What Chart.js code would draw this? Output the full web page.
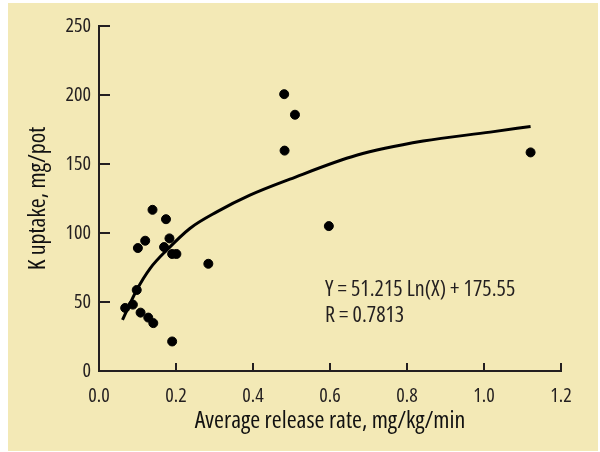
<!DOCTYPE html>
<html>
<head>
    <title>K uptake vs release rate</title>
    <script src="https://cdn.jsdelivr.net/npm/chart.js@4.4.5/dist/chart.umd.min.js"></script>
    <style>
        body { margin: 0; background: #ffffff; }
        #wrap { position: absolute; left: 8px; top: 3px; width: 590px; height: 448px; background: #f3e9b6; }
    </style>
</head>
<body>
    <div id="wrap"><canvas id="kChart"></canvas></div>

    <script>
        // Measured points (release rate, K uptake)
        const releaseRate = [0.068, 0.088, 0.098, 0.101, 0.120, 0.139, 0.108, 0.128, 0.141, 0.174, 0.169, 0.183, 0.190, 0.201, 0.190, 0.284, 0.481, 0.509, 0.482, 0.597, 1.121];
        const kUptake     = [45.7, 48.1, 58.7, 89.1, 94.4, 116.8, 42.3, 38.7, 34.7, 110.0, 89.8, 96.1, 84.8, 84.8, 21.4, 77.7, 200.6, 185.7, 159.7, 105.0, 158.4];

        // Fitted curve as drawn in the figure
        const curveX = [0.061, 0.098, 0.133, 0.176, 0.236, 0.306, 0.392, 0.496, 0.669, 0.842, 1.016, 1.121];
        const curveY = [37.0, 58.7, 74.4, 87.6, 103.3, 115.3, 127.4, 139.0, 156.3, 166.6, 173.1, 177.2];

        const xTicks = [0, 0.2, 0.4, 0.6, 0.8, 1.0, 1.2];
        const yTicks = [0, 50, 100, 150, 200, 250];

        // condensed face via font-stretch in the canvas font string
        const fontFamily = "'Open Sans', 'Roboto', sans-serif";
        const narrow = 'condensed';
        const ink = '#231f20';

        // inward ticks + equation text
        const extras = {
            id: 'extras',
            afterDraw(chart) {
                const ctx = chart.ctx;
                const xs = chart.scales.x, ys = chart.scales.y;
                ctx.save();
                ctx.strokeStyle = ink;
                ctx.lineWidth = 2;
                xTicks.forEach(v => {
                    const px = xs.getPixelForValue(v);
                    ctx.beginPath();
                    ctx.moveTo(px, ys.bottom);
                    ctx.lineTo(px, ys.bottom - 8);
                    ctx.stroke();
                });
                yTicks.forEach(v => {
                    const py = ys.getPixelForValue(v);
                    ctx.beginPath();
                    ctx.moveTo(xs.left, py);
                    ctx.lineTo(xs.left + 11, py);
                    ctx.stroke();
                });
                ctx.fillStyle = ink;
                ctx.font = narrow + ' 22px ' + fontFamily;
                ctx.textBaseline = 'middle';
                ctx.textAlign = 'left';
                const tx = xs.getPixelForValue(0.587);
                ctx.fillText('Y = 51.215 Ln(X) + 175.55', tx, ys.getPixelForValue(59.2));
                ctx.fillText('R = 0.7813', tx, ys.getPixelForValue(40.4));
                ctx.restore();
            }
        };

        new Chart(document.getElementById('kChart'), {
            type: 'scatter',
            data: {
                datasets: [
                    {
                        type: 'line',
                        data: curveX.map((x, i) => ({ x: x, y: curveY[i] })),
                        borderColor: '#000',
                        borderWidth: 3,
                        pointRadius: 0,
                        cubicInterpolationMode: 'monotone',
                        fill: false
                    },
                    {
                        data: releaseRate.map((x, i) => ({ x: x, y: kUptake[i] })),
                        backgroundColor: '#000',
                        borderColor: '#000',
                        pointRadius: 4.5,
                        pointHoverRadius: 4.5
                    }
                ]
            },
            options: {
                responsive: true,
                maintainAspectRatio: false,
                animation: false,
                events: [],
                layout: { padding: { top: 23, right: 37, left: 0, bottom: 0 } },
                plugins: { legend: { display: false }, tooltip: { enabled: false } },
                scales: {
                    x: {
                        type: 'linear',
                        min: 0, max: 1.2,
                        afterBuildTicks: s => { s.ticks = xTicks.map(v => ({ value: v })); },
                        afterFit: s => { s.height = 80; },
                        grid: { display: false, drawTicks: false },
                        border: { display: true, color: ink, width: 2 },
                        ticks: {
                            color: ink,
                            padding: 13,
                            font: { family: fontFamily, size: 20, weight: narrow },
                            callback: v => v.toFixed(1)
                        },
                        title: {
                            display: true,
                            text: 'Average release rate, mg/kg/min',
                            color: '#111',
                            font: { family: fontFamily, size: 24, weight: narrow },
                            padding: { top: 0, bottom: 15 }
                        }
                    },
                    y: {
                        min: 0, max: 250,
                        afterBuildTicks: s => { s.ticks = yTicks.map(v => ({ value: v })); },
                        afterFit: s => { s.width = 91; },
                        grid: { display: false, drawTicks: false },
                        border: { display: true, color: ink, width: 2 },
                        ticks: {
                            color: ink,
                            padding: 8,
                            font: { family: fontFamily, size: 20, weight: narrow }
                        },
                        title: {
                            display: true,
                            text: 'K uptake, mg/pot',
                            color: '#111',
                            font: { family: fontFamily, size: 24, weight: narrow },
                            padding: { top: 16, bottom: 0 }
                        }
                    }
                }
            },
            plugins: [extras]
        });
    </script>
</body>
</html>
